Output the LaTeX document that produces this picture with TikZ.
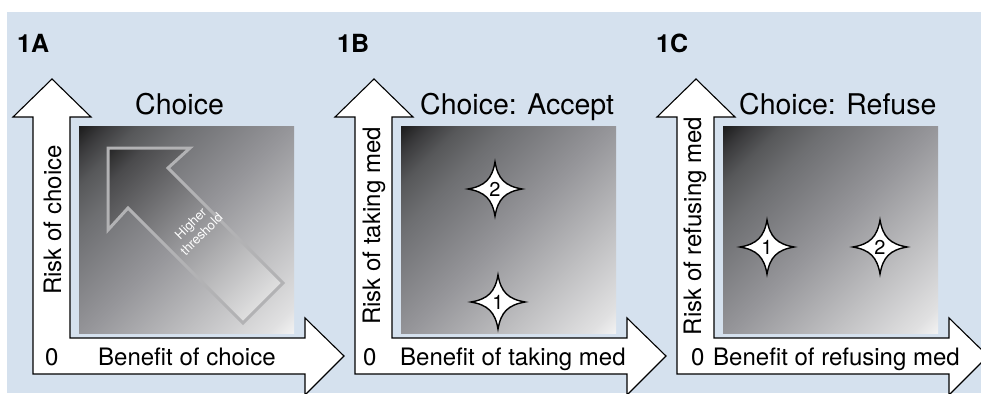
\documentclass[tikz,border=0pt]{standalone}
\usepackage{fontspec}
\setmainfont{TeX Gyre Heros}
\definecolor{bgblue}{HTML}{D5E1EE}
\definecolor{arrgray}{HTML}{B2B2B4}
\definecolor{sqA}{HTML}{F2F2F2}
\definecolor{sqB}{HTML}{E0E0E1}
\definecolor{sqC}{HTML}{C0C0C2}
\definecolor{sqD}{HTML}{959599}
\definecolor{sqE}{HTML}{6E6F72}
\definecolor{sqF}{HTML}{57585A}
\definecolor{sqG}{HTML}{3A3A3C}
\definecolor{sqH}{HTML}{1C1C1C}
\definecolor{arA}{HTML}{F4F4F4}
\definecolor{arB}{HTML}{9A9A9D}
\definecolor{arC}{HTML}{4A4A4C}
\definecolor{arD}{HTML}{262626}
\pgfdeclareverticalshading{sqshade}{100bp}{color(0bp)=(sqA); color(14.6bp)=(sqA); color(18.9bp)=(sqB); color(32.3bp)=(sqC); color(50bp)=(sqD); color(67.7bp)=(sqE); color(75.5bp)=(sqF); color(81.1bp)=(sqG); color(85.4bp)=(sqH); color(100bp)=(sqH)}
\pgfdeclareverticalshading{arrshade}{100bp}{color(0bp)=(arA); color(14.6bp)=(arA); color(50bp)=(arB); color(78.3bp)=(arC); color(85.4bp)=(arD); color(100bp)=(arD)}
\tikzset{
  axisarrow/.style={draw=black, line width=1.1pt, fill=white, line join=miter},
  sqbox/.style={shading=sqshade, shading angle=45},
  titletext/.style={font=\fontsize{28.5}{32}\selectfont, anchor=base west, inner sep=0pt},
  axtext/.style={font=\fontsize{24}{28}\selectfont, anchor=base west, inner sep=0pt},
  vtext/.style={font=\fontsize{24}{28}\selectfont, rotate=90, anchor=base, inner sep=0pt},
  paneltext/.style={font=\bfseries\fontsize{25}{28}\selectfont, anchor=base west, inner sep=0pt},
  starline/.style={draw=black, line width=1.4pt, fill=white, line join=miter},
  starnum/.style={font=\fontsize{20}{22}\selectfont, inner sep=0pt},
  thrtext/.style={font=\fontsize{13}{15}\selectfont, text=white, align=center, rotate=45, inner sep=0pt},
}
\newcommand\mystar[4]{%
  \begin{scope}[shift={(#1,#2)}]
    \draw[starline] (27,0) .. controls (10,-3) and (3,-10) .. (0,-27)
      .. controls (-3,-10) and (-10,-3) .. (-27,0)
      .. controls (-10,3) and (-3,10) .. (0,27)
      .. controls (3,10) and (10,3) .. cycle;
  \end{scope}
  \node[starnum] (#4) at (#1,#2) {#3};}
\newcommand\myaxes{%
  \draw[axisarrow] (33,374) -- (33,117) -- (13,117) -- (52,79) -- (91,117) -- (70,117)
    -- (70,338) -- (305,338) -- (305,318) -- (344,356) -- (305,395) -- (305,374) -- cycle;
  \shade[sqbox] (79,126) rectangle (294,333);}
\begin{document}
\begin{tikzpicture}[x=1pt,y=-1pt]
\useasboundingbox (0,0) rectangle (981,393);
\clip (0,0) rectangle (981,393);
\fill[bgblue] (7,12) rectangle (981,393);

% axes and squares
\begin{scope}\myaxes\end{scope}
\begin{scope}[shift={(322,0)}]\myaxes\end{scope}
\begin{scope}[shift={(644,0)}]\myaxes\end{scope}

% panel A threshold arrow
\shadedraw[shading=arrshade, shading angle=45, draw=arrgray, line width=3pt, line join=miter]
  (108,148) -- (190,148) -- (168,168) -- (283,283) -- (243,323) -- (128,208) -- (108,230) -- cycle;
\node[thrtext] (thr) at (196,229) {Higher\\threshold};

% panel labels
\node[paneltext] (pA) at (17,53) {1A};
\node[paneltext] (pB) at (337,53) {1B};
\node[paneltext] (pC) at (656,53) {1C};

% titles
\node[titletext] (tA) at (135,114) {Choice};
\node[titletext] (tB) at (420,114) {Choice: Accept};
\node[titletext] (tC) at (739,114) {Choice: Refuse};

% vertical axis labels
\node[vtext] (yA) at (61,220) {Risk of choice};
\node[vtext] (yB) at (380,226) {Risk of taking med};
\node[vtext] (yC) at (701,226) {Risk of refusing med};

% horizontal axis labels
\node[axtext] (zA) at (45,365) {0};
\node[axtext] (xA) at (98,365) {Benefit of choice};
\node[axtext] (zB) at (363,365) {0};
\node[axtext] (xB) at (400,365) {Benefit of taking med};
\node[axtext] (zC) at (691,365) {0};
\node[axtext] (xC) at (713,365) {Benefit of refusing med};

% stars
\mystar{495}{189}{2}{sB2}
\mystar{498}{302}{1}{sB1}
\mystar{767}{247}{1}{sC1}
\mystar{880}{247}{2}{sC2}
\end{tikzpicture}
\end{document}
